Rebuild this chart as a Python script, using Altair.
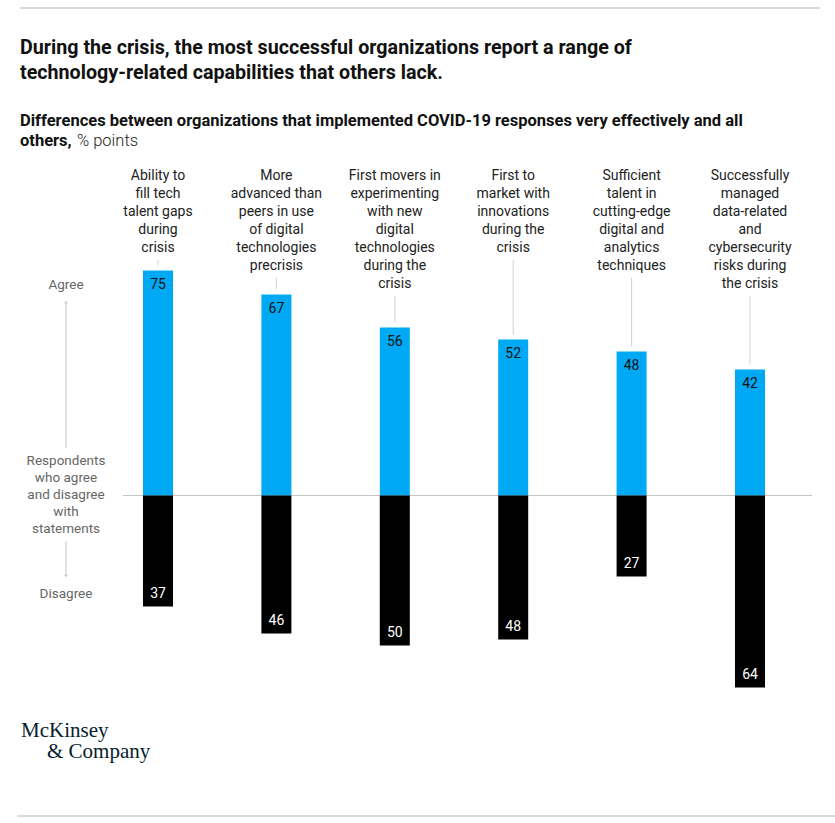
import altair as alt
import pandas as pd

# ---------------- data ----------------
title_lines = [
    "During the crisis, the most successful organizations report a range of",
    "technology-related capabilities that others lack.",
]
subtitle_line1 = "Differences between organizations that implemented COVID-19 responses very effectively and all"
subtitle_bold2 = "others,"
subtitle_reg2 = "% points"

label_lines = [
    ["Ability to", "fill tech", "talent gaps", "during", "crisis"],
    ["More", "advanced than", "peers in use", "of digital", "technologies", "precrisis"],
    ["First movers in", "experimenting", "with new", "digital", "technologies", "during the", "crisis"],
    ["First to", "market with", "innovations", "during the", "crisis"],
    ["Sufficient", "talent in", "cutting-edge", "digital and", "analytics", "techniques"],
    ["Successfully", "managed", "data-related", "and", "cybersecurity", "risks during", "the crisis"],
]
agree = [75, 67, 56, 52, 48, 42]
disagree = [37, 46, 50, 48, 27, 64]

side_top = "Agree"
side_bottom = "Disagree"
side_mid = ["Respondents", "who agree", "and disagree", "with", "statements"]
logo_1 = "McKinsey"
logo_2 = "& Company"

# ---------------- layout ----------------
W, H = 835, 823
BASE = 495.5
PX = 3.0
LABEL_TOP = 169
LINE_H = 18

xscale = alt.Scale(domain=[0, 5], range=[158, 750], padding=0, zero=False, nice=False)
yscale = alt.Scale(domain=[-100, 100], range=[BASE + 100 * PX, BASE - 100 * PX], padding=0, nice=False)

n = len(agree)
pos = list(range(n))
df = pd.DataFrame({
    "pos": pos,
    "agree": agree,
    "neg": [-d for d in disagree],
    "dis": disagree,
    "zero": [0] * n,
    "lines": label_lines,
})
df["lead_top"] = [(BASE - (LABEL_TOP + (len(l) - 1) * LINE_H + 19)) / PX for l in label_lines]
df["lead_bot"] = df["agree"] + 5 / PX

X = alt.X("pos:Q", scale=xscale, axis=None)
Y = lambda f: alt.Y(f, type="quantitative", scale=yscale, axis=None)

SANS = "Roboto"

one = pd.DataFrame({"a": [0]})

def txt(text, x, y, **kw):
    return alt.Chart(one).mark_text(**kw).encode(
        x=alt.value(x), y=alt.value(y), text=alt.value(text))

layers = []

# top and bottom separator lines
layers.append(alt.Chart(one).mark_rule(color="#b5b5b5", strokeWidth=1).encode(
    x=alt.value(20), x2=alt.value(820), y=alt.value(8)))
layers.append(alt.Chart(one).mark_rule(color="#b5b5b5", strokeWidth=1).encode(
    x=alt.value(17), x2=alt.value(835), y=alt.value(816)))

# title
for i, t in enumerate(title_lines):
    layers.append(txt(t, 20, 48 + i * 25, font=SANS, fontSize=19.7, fontWeight="bold",
                      color="#111111", align="left", baseline="middle"))
# subtitle
layers.append(txt(subtitle_line1, 20, 121, font=SANS, fontSize=16.5, fontWeight="bold",
                  color="#111111", align="left", baseline="middle"))
layers.append(txt(subtitle_bold2, 20, 141, font=SANS, fontSize=16.5, fontWeight="bold",
                  color="#111111", align="left", baseline="middle"))
layers.append(txt(subtitle_reg2, 77, 141, font=SANS, fontSize=16.5, fontWeight=300,
                  color="#222222", align="left", baseline="middle"))

base = alt.Chart(df)

# baseline
layers.append(alt.Chart(one).mark_rule(color="#c4c4c4", strokeWidth=1).encode(
    x=alt.value(123), x2=alt.value(812), y=alt.Y("a:Q", scale=yscale, axis=None)))

# leader lines
layers.append(base.mark_rule(color="#d0d0d0", strokeWidth=1).encode(
    x=X, y=Y("lead_top"), y2="lead_bot"))

# bars
layers.append(base.mark_bar(size=30, color="#00a9f4").encode(x=X, y=Y("agree"), y2="zero"))
layers.append(base.mark_bar(size=30, color="#000000").encode(x=X, y=Y("neg"), y2="zero"))

# value labels
layers.append(base.mark_text(font=SANS, fontSize=14, color="#111111", baseline="middle", dy=14).encode(
    x=X, y=Y("agree"), text="agree:Q"))
layers.append(base.mark_text(font=SANS, fontSize=14, color="#ffffff", baseline="middle", dy=-13).encode(
    x=X, y=Y("neg"), text="dis:Q"))

# category labels
layers.append(base.mark_text(font=SANS, fontSize=14, color="#222222", baseline="top",
                             align="center", lineHeight=LINE_H).encode(
    x=X, y=alt.value(LABEL_TOP), text="lines"))

# side annotation
SIDE_X = 66
layers.append(txt(side_top, SIDE_X, 285, font=SANS, fontSize=13.5, color="#666666",
                  align="center", baseline="middle"))
layers.append(txt(side_bottom, SIDE_X, 594, font=SANS, fontSize=13.5, color="#666666",
                  align="center", baseline="middle"))
layers.append(alt.Chart(pd.DataFrame({"l": [side_mid]})).mark_text(
    font=SANS, fontSize=13.5, color="#666666", align="center", baseline="middle", lineHeight=17).encode(
    x=alt.value(SIDE_X), y=alt.value(461), text="l"))
layers.append(alt.Chart(one).mark_rule(color="#c8c8c8").encode(
    x=alt.value(SIDE_X), y=alt.value(303), y2=alt.value(448)))
layers.append(alt.Chart(one).mark_rule(color="#c8c8c8").encode(
    x=alt.value(SIDE_X), y=alt.value(541), y2=alt.value(575)))
layers.append(alt.Chart(one).mark_point(shape="triangle-up", filled=True, size=14,
                                        color="#c8c8c8", opacity=1).encode(
    x=alt.value(SIDE_X), y=alt.value(302)))
layers.append(alt.Chart(one).mark_point(shape="triangle-down", filled=True, size=14,
                                        color="#c8c8c8", opacity=1).encode(
    x=alt.value(SIDE_X), y=alt.value(576)))

# logo
layers.append(txt(logo_1, 21, 737, font="Liberation Serif", fontSize=21, color="#051c2c",
                  align="left", baseline="alphabetic"))
layers.append(txt(logo_2, 47, 758, font="Liberation Serif", fontSize=21, color="#051c2c",
                  align="left", baseline="alphabetic"))

chart = alt.layer(*layers).properties(
    width=W, height=H, padding=0, autosize=alt.AutoSizeParams(type="none"),
    background="white",
).configure_view(stroke=None)

chart.save("out.html", embed_options={"renderer": "svg", "actions": False})
